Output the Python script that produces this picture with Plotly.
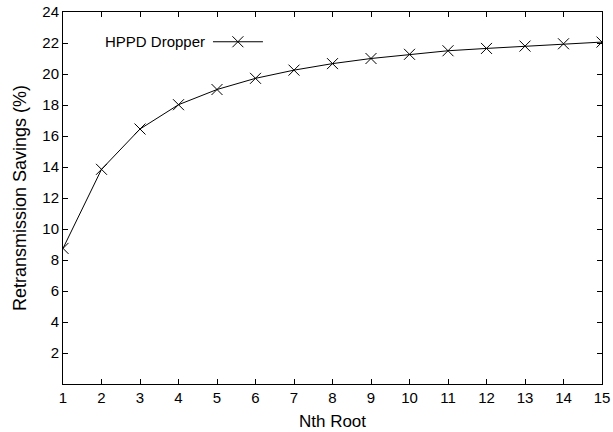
import plotly.graph_objects as go

nth_root = list(range(1, 16))
savings = [8.75, 13.85, 16.45, 18.02, 19.0, 19.72, 20.25, 20.67, 21.0, 21.27,
           21.5, 21.65, 21.8, 21.95, 22.06]
series_name = "HPPD Dropper"
y_ticks = list(range(2, 25, 2))

fam = "Liberation Sans, Arial, sans-serif"
tick_font = dict(family=fam, size=15, color="black")
title_font = dict(family=fam, size=17, color="black")
ytitle_font = dict(family=fam, size=18, color="black")

fig = go.Figure()
fig.add_trace(go.Scatter(
    x=nth_root, y=savings, mode="lines+markers", name=series_name,
    line=dict(color="black", width=1),
    marker=dict(symbol="x-thin-open", size=11, color="black",
                line=dict(color="black", width=1)),
    showlegend=False,
))
# legend sample (gnuplot style: text then sample) on its own small axis
fig.add_trace(go.Scatter(
    x=[0, 0.5, 1], y=[0, 0, 0], mode="lines", xaxis="x2", yaxis="y2",
    line=dict(color="black", width=1), showlegend=False, hoverinfo="skip",
))
fig.add_trace(go.Scatter(
    x=[0.5], y=[0], mode="markers", xaxis="x2", yaxis="y2",
    marker=dict(symbol="x-thin-open", size=11, color="black",
                line=dict(color="black", width=1)),
    showlegend=False, hoverinfo="skip",
))

fig.update_layout(
    width=613, height=432,
    margin=dict(l=63, r=11, t=12, b=48, autoexpand=False),
    paper_bgcolor="white", plot_bgcolor="white",
    font=tick_font,
    xaxis=dict(
        range=[1, 15], tickvals=nth_root, ticks="inside", ticklen=5,
        tickcolor="black", showline=True, linecolor="black", linewidth=1,
        mirror="allticks", showgrid=False, zeroline=False, automargin=False,
        title=dict(text="Nth Root", font=title_font, standoff=10),
        tickfont=tick_font,
    ),
    yaxis=dict(
        range=[0, 24], tickvals=y_ticks, ticks="inside", ticklen=5,
        tickcolor="black", showline=True, linecolor="black", linewidth=1,
        mirror="allticks", showgrid=False, zeroline=False, automargin=False,
        title=dict(text="Retransmission Savings (%)", font=ytitle_font, standoff=11),
        tickfont=tick_font,
    ),
    xaxis2=dict(domain=[0.278, 0.371], range=[0, 1], visible=False,
                anchor="y2", fixedrange=True),
    yaxis2=dict(domain=[0.90, 0.94], range=[-1, 1], visible=False,
                anchor="x2", fixedrange=True),
    annotations=[dict(
        text=series_name, xref="paper", yref="paper", x=0.267, y=0.92,
        xanchor="right", yanchor="middle", showarrow=False, font=tick_font,
    )],
)

fig.write_html("out.html")
